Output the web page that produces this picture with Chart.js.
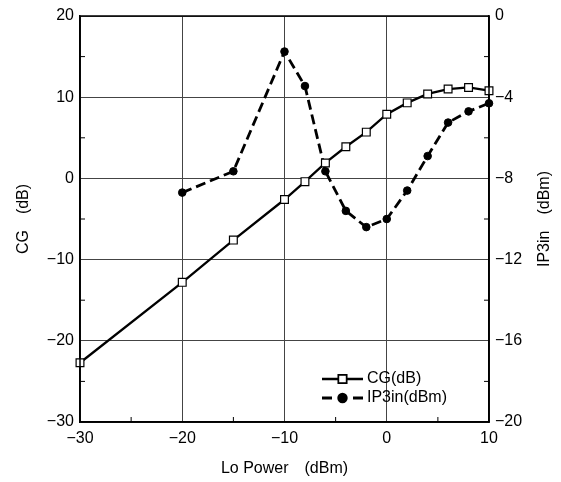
<!DOCTYPE html>
<html>
<head>
<meta charset="utf-8">
<script src="https://cdn.jsdelivr.net/npm/chart.js@4.4.1/dist/chart.umd.min.js"></script>
<style>
	html, body { margin: 0; padding: 0; background: #fff; }
	#wrap { width: 561px; height: 482px; }
</style>
</head>
<body>
<div id="wrap"><canvas id="chart" width="561" height="482"></canvas></div>
<script>
// Lo Power (dBm)
const loPower = [-30, -20, -15, -10, -8, -6, -4, -2, 0, 2, 4, 6, 8, 10];
// CG (dB), left axis
const cgValues = [-22.7, -12.8, -7.6, -2.6, -0.4, 1.9, 3.9, 5.7, 7.9, 9.3, 10.4, 11.0, 11.2, 10.8];
// IP3in (dBm), right axis -- no point at -30
const ip3Power = [-20, -15, -10, -8, -6, -4, -2, 0, 2, 4, 6, 8, 10];
const ip3Values = [-8.7, -7.65, -1.75, -3.45, -7.65, -9.6, -10.4, -10.0, -8.6, -6.9, -5.25, -4.7, -4.3];

// small inner ticks between the gridlines
const xMinor = [-25, -15, -5, 5];
const yMinor = [-25, -15, -5, 5, 15];
const y1Minor = [-18, -14, -10, -6, -2];

const FONT = 'Liberation Sans, Arial, Helvetica, sans-serif';
const FSIZE = 16;
const minus = (v) => (v < 0 ? '\u2212' + Math.abs(v) : '' + v);

const framePlugin = {
	id: 'frame',
	afterDatasetsDraw(chart) {
		const { ctx, chartArea: a, scales } = chart;
		ctx.save();
		ctx.strokeStyle = '#000';
		ctx.lineWidth = 1;
		ctx.beginPath();
		xMinor.forEach((v) => {
			const px = scales.x.getPixelForValue(v);
			ctx.moveTo(px, a.bottom);
			ctx.lineTo(px, a.bottom - 5);
		});
		yMinor.forEach((v) => {
			const py = scales.y.getPixelForValue(v);
			ctx.moveTo(a.left, py);
			ctx.lineTo(a.left + 5, py);
		});
		y1Minor.forEach((v) => {
			const py = scales.y1.getPixelForValue(v);
			ctx.moveTo(a.right, py);
			ctx.lineTo(a.right - 5, py);
		});
		ctx.stroke();
		ctx.lineWidth = 1.5;
		ctx.strokeRect(a.left, a.top, a.right - a.left, a.bottom - a.top);

		// right axis title reads bottom-to-top like the left one
		ctx.translate(545, (a.top + a.bottom) / 2);
		ctx.rotate(-Math.PI / 2);
		ctx.fillStyle = '#000';
		ctx.font = FSIZE + 'px ' + FONT;
		ctx.textAlign = 'center';
		ctx.textBaseline = 'middle';
		ctx.fillText('IP3in\u3000(dBm)', 0, 0);
		ctx.restore();
	},
};

// legend: line with marker in the middle, then the label
const legendPlugin = {
	id: 'lineLegend',
	afterDraw(chart) {
		const { ctx } = chart;
		const x0 = 322, x1 = 363, y0 = 379, rowH = 19;
		ctx.save();
		chart.data.datasets.forEach((ds, i) => {
			const y = y0 + i * rowH;
			ctx.strokeStyle = ds.borderColor;
			ctx.lineWidth = ds.borderWidth;
			ctx.beginPath();
			if (ds.borderDash) {
				ctx.moveTo(x0, y); ctx.lineTo(x0 + 10, y);
				ctx.moveTo(x1 - 10, y); ctx.lineTo(x1, y);
			} else {
				ctx.moveTo(x0, y); ctx.lineTo(x1, y);
			}
			ctx.stroke();
			Chart.helpers.drawPoint(ctx, {
				pointStyle: ds.pointStyle,
				radius: ds.pointRadius,
				borderWidth: ds.pointBorderWidth,
			}, (x0 + x1) / 2, y);
			ctx.fillStyle = ds.pointBackgroundColor;
			ctx.strokeStyle = ds.pointBorderColor;
			ctx.lineWidth = ds.pointBorderWidth;
			ctx.fill();
			ctx.stroke();
			ctx.fillStyle = '#000';
			ctx.font = FSIZE + 'px ' + FONT;
			ctx.textBaseline = 'middle';
			ctx.fillText(ds.label, x1 + 4, y);
		});
		ctx.restore();
	},
};

const ctx = document.getElementById('chart').getContext('2d');
new Chart(ctx, {
	type: 'line',
	data: {
		datasets: [
			{
				label: 'CG(dB)',
				data: loPower.map((x, i) => ({ x, y: cgValues[i] })),
				yAxisID: 'y',
				borderColor: '#000',
				borderWidth: 2.3,
				pointStyle: 'rect',
				pointRadius: 5.5,
				pointBorderWidth: 1.2,
				pointBackgroundColor: '#fff',
				pointBorderColor: '#000',
				tension: 0,
				clip: false,
			},
			{
				label: 'IP3in(dBm)',
				data: ip3Power.map((x, i) => ({ x, y: ip3Values[i] })),
				yAxisID: 'y1',
				borderColor: '#000',
				borderWidth: 2.8,
				borderDash: [10, 5],
				pointStyle: 'circle',
				pointRadius: 3.8,
				pointBorderWidth: 1,
				pointBackgroundColor: '#000',
				pointBorderColor: '#000',
				tension: 0,
				clip: false,
			},
		],
	},
	options: {
		responsive: false,
		animation: false,
		layout: { padding: { top: 16, left: 0, right: 0, bottom: 0 } },
		plugins: { legend: { display: false }, tooltip: { enabled: false } },
		scales: {
			x: {
				type: 'linear',
				min: -30,
				max: 10,
				afterFit: (s) => { s.height = 60; },
				ticks: { stepSize: 10, padding: 7, color: '#000', font: { family: FONT, size: FSIZE }, callback: minus },
				grid: { color: '#444', lineWidth: 1, drawTicks: false },
				border: { color: '#000', width: 1.5 },
				title: { display: true, text: 'Lo Power\u3000(dBm)', color: '#000', font: { family: FONT, size: FSIZE }, padding: { bottom: 4 } },
			},
			y: {
				position: 'left',
				min: -30,
				max: 20,
				afterFit: (s) => { s.width = 80; },
				ticks: { stepSize: 10, padding: 6, color: '#000', font: { family: FONT, size: FSIZE }, callback: minus },
				grid: { color: '#444', lineWidth: 1, drawTicks: false },
				border: { color: '#000', width: 1.5 },
				title: { display: true, text: 'CG\u3000(dB)', color: '#000', font: { family: FONT, size: FSIZE }, padding: { top: 14 } },
			},
			y1: {
				position: 'right',
				min: -20,
				max: 0,
				afterFit: (s) => { s.width = 72; },
				ticks: { stepSize: 4, padding: 6, color: '#000', font: { family: FONT, size: FSIZE }, callback: minus },
				grid: { display: false, drawTicks: false },
				border: { color: '#000', width: 1.5 },
			},
		},
	},
	plugins: [framePlugin, legendPlugin],
});
</script>
</body>
</html>
